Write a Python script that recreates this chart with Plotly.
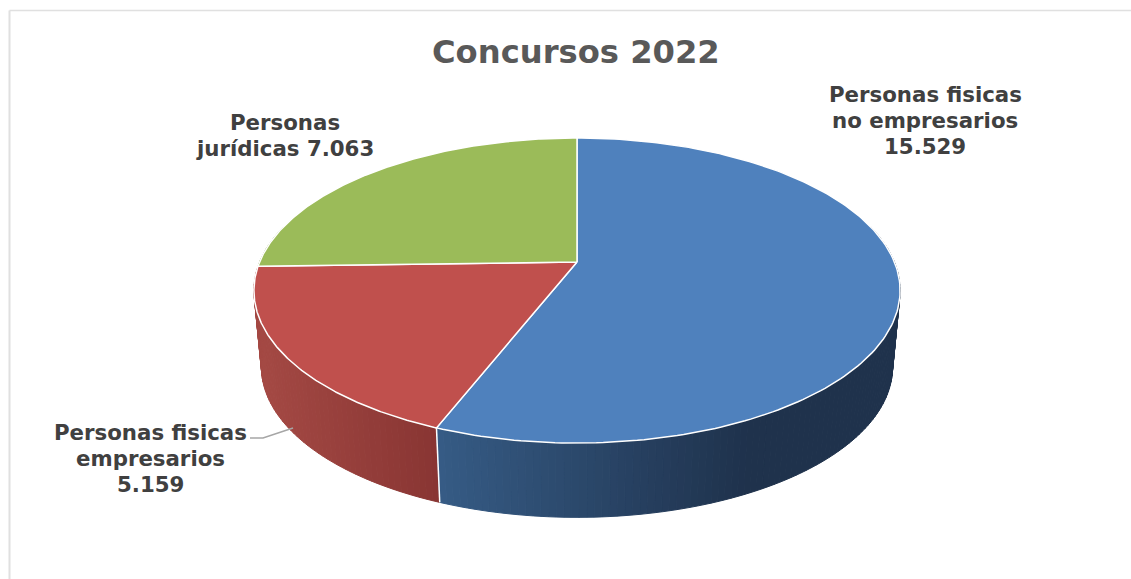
import numpy as np
import plotly.graph_objects as go

title = "Concursos 2022"
categories = ["Personas fisicas no empresarios", "Personas fisicas empresarios", "Personas jurídicas"]
values = [15529, 5159, 7063]
face_colors = ["#4f81bd", "#c0504d", "#9bbb59"]
side_left = [(54, 91, 133), (164, 73, 68), (120, 146, 70)]
side_right = [(31, 50, 76), (136, 53, 51), (90, 110, 52)]

# label text, one entry per line, with line centres in pixels
label_lines = [
    ["Personas fisicas", "no empresarios", "15.529"],
    ["Personas fisicas", "empresarios", "5.159"],
    ["Personas", "jurídicas 7.063"],
]
label_x = [925, 150, 285]
label_y = [[94, 120, 146], [432, 458, 484], [122, 148]]

W, H = 1131, 579
K = 0.187  # perspective of the tilted disc


def project(angle, cy, a, b):
    u, v = np.sin(angle), -np.cos(angle)
    d = 1 - K * v
    return 577 + a * u / d, cy + b * v / d


def top_rim(angle):
    return project(angle, 262, 317.4, 147.2)


def low_rim(angle):
    return project(angle, 339, 310, 145)


def mix(c1, c2, t):
    t = min(max(t, 0), 1)
    return "rgb(%d,%d,%d)" % tuple(c1[i] + (c2[i] - c1[i]) * t for i in range(3))


shares = np.array(values) / sum(values) * 2 * np.pi
edges = np.concatenate([[0], np.cumsum(shares)])

fig = go.Figure()

# walls first, the top faces are drawn over whatever is behind them
# back slices go first so the red wall hides the green one
for i in reversed(range(len(values))):
    steps = np.linspace(edges[i], edges[i + 1], int(shares[i] / 0.02) + 2)
    for s, e in zip(steps[:-1], steps[1:]):
        if np.cos((s + e) / 2) > 0.25:
            continue
        x0, y0 = top_rim(s)
        x1, y1 = top_rim(e)
        x2, y2 = low_rim(e)
        x3, y3 = low_rim(s)
        mid = (x0 + x1) / 2
        if i == 0:
            col = mix(side_left[i], side_right[i], (mid - 440) / 310)
        else:
            col = mix(side_left[i], side_right[i], (mid - 262) / 178)
        fig.add_trace(go.Scatter(x=[x0, x1, x2, x3, x0], y=[y0, y1, y2, y3, y0], mode="lines",
                                 fill="toself", fillcolor=col, line=dict(color=col, width=1),
                                 hoverinfo="skip", showlegend=False))

# white seam between the blue and red walls
xa, ya = top_rim(edges[1])
xb, yb = low_rim(edges[1])
fig.add_trace(go.Scatter(x=[xa, xb], y=[ya, yb], mode="lines", line=dict(color="white", width=1.5),
                         hoverinfo="skip", showlegend=False))

for i in range(len(values)):
    t = np.linspace(edges[i], edges[i + 1], 200)
    rx, ry = top_rim(t)
    fig.add_trace(go.Scatter(x=np.r_[577, rx, 577], y=np.r_[262, ry, 262], mode="lines",
                             fill="toself", fillcolor=face_colors[i],
                             line=dict(color="white", width=1.5), name=categories[i],
                             hoverinfo="name", showlegend=False))

# leader line of the red label
fig.add_trace(go.Scatter(x=[250, 263, 293], y=[438, 438, 428], mode="lines",
                         line=dict(color="#a6a6a6", width=1.5), hoverinfo="skip", showlegend=False))

for lines, lx, lys in zip(label_lines, label_x, label_y):
    for line, ly in zip(lines, lys):
        fig.add_annotation(x=lx, y=ly, text=line, showarrow=False, xanchor="center", yanchor="middle",
                           font=dict(family="DejaVu Sans", size=21.3, color="#404040", weight="bold"))

fig.add_annotation(x=576, y=52, text=title, showarrow=False, xanchor="center", yanchor="middle",
                   font=dict(family="DejaVu Sans", size=32.2, color="#595959", weight="bold"))

# chart frame, no right or bottom edge in view
fig.add_shape(type="line", x0=9.5, x1=9.5, y0=10.5, y1=H, line=dict(color="#e0e0e0", width=2))
fig.add_shape(type="line", x0=9.5, x1=W, y0=10.5, y1=10.5, line=dict(color="#e0e0e0", width=1.5))

fig.update_xaxes(range=[0, W], visible=False, fixedrange=True)
fig.update_yaxes(range=[H, 0], visible=False, fixedrange=True)
fig.update_layout(width=W, height=H, margin=dict(l=0, r=0, t=0, b=0),
                  plot_bgcolor="white", paper_bgcolor="white", showlegend=False)

fig.write_html("out.html", config={"displayModeBar": False},
               post_script="document.body.style.margin='0';document.body.style.overflow='hidden';")
